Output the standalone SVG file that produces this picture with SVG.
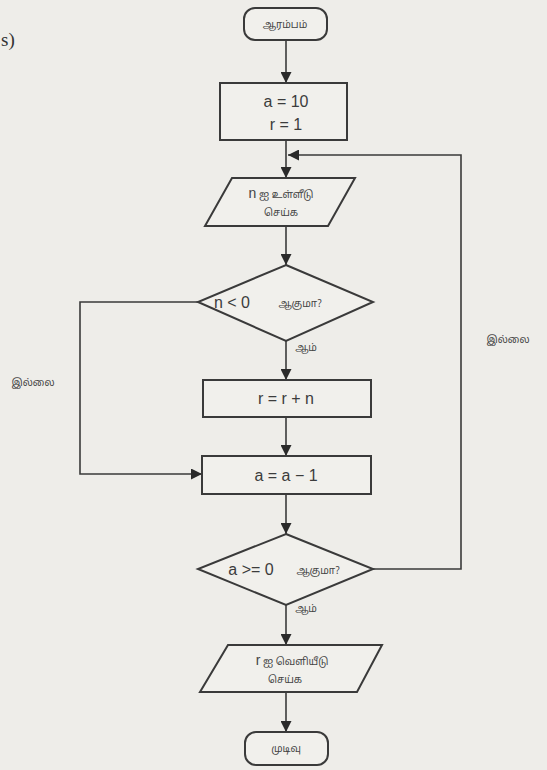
<svg xmlns="http://www.w3.org/2000/svg" width="547" height="770" viewBox="0 0 547 770">
<defs>
<marker id="ah" viewBox="0 0 10 10" refX="10" refY="5" markerWidth="11" markerHeight="11" markerUnits="userSpaceOnUse" orient="auto">
<path d="M0,0 L10,5 L0,10 Z" fill="#2a2a2a"/>
</marker>
<style>
.shape{fill:#f1f0ec;stroke:#3a3a3a;stroke-width:2}
.conn{fill:none;stroke:#3a3a3a;stroke-width:1.6}
.t{font-family:"Liberation Sans",Arial,sans-serif;font-size:16px;fill:#3c3c3c;text-anchor:middle}
.ta{font-family:"Noto Sans Tamil","Noto Sans","Lohit Tamil",sans-serif;font-size:10px;fill:#444;text-anchor:middle}
</style>
</defs>
<rect width="547" height="770" fill="#eeede9"/>
<text x="1" y="46" font-family="Liberation Serif,serif" font-size="19" fill="#333">s)</text>
<g id="connectors">
<line class="conn" x1="286" y1="40" x2="286" y2="83" marker-end="url(#ah)"/>
<line class="conn" x1="286" y1="140" x2="286" y2="178" marker-end="url(#ah)"/>
<line class="conn" x1="286" y1="226" x2="286" y2="265" marker-end="url(#ah)"/>
<line class="conn" x1="286" y1="341" x2="286" y2="380" marker-end="url(#ah)"/>
<line class="conn" x1="286" y1="417" x2="286" y2="456" marker-end="url(#ah)"/>
<line class="conn" x1="286" y1="494" x2="286" y2="534" marker-end="url(#ah)"/>
<line class="conn" x1="286" y1="605" x2="286" y2="645" marker-end="url(#ah)"/>
<line class="conn" x1="286" y1="692" x2="286" y2="732" marker-end="url(#ah)"/>
<polyline class="conn" points="198,302 80,302 80,474 202,474" marker-end="url(#ah)"/>
<polyline class="conn" points="373,569 461,569 461,155 288,155" marker-end="url(#ah)"/>
<text class="ta" x="306" y="351">ஆம்</text>
<text class="ta" x="306" y="612">ஆம்</text>
<text class="ta" x="33" y="386">இல்லை</text>
<text class="ta" x="508" y="343">இல்லை</text>
</g>
<g id="start">
<rect class="shape" x="244" y="8" width="83" height="32" rx="11"/>
<text class="ta" x="285" y="28">ஆரம்பம்</text>
</g>
<g id="init">
<rect class="shape" x="220" y="83" width="127" height="57"/>
<text class="t" x="286" y="107">a = 10</text>
<text class="t" x="286" y="130">r = 1</text>
</g>
<g id="input">
<polygon class="shape" points="232,178 355,178 328,226 205,226"/>
<text class="ta" x="281" y="198"><tspan font-family="Liberation Sans,sans-serif" font-size="14">n</tspan> ஐ உள்ளீடு</text>
<text class="ta" x="281" y="216">செய்க</text>
</g>
<g id="check-n">
<polygon class="shape" points="286,265 373,302 286,341 198,302"/>
<text class="t" x="232" y="308">n &lt; 0</text>
<text class="ta" x="300" y="307">ஆகுமா?</text>
</g>
<g id="add">
<rect class="shape" x="203" y="380" width="168" height="37"/>
<text class="t" x="286" y="404">r = r + n</text>
</g>
<g id="dec">
<rect class="shape" x="202" y="456" width="169" height="38"/>
<text class="t" x="286" y="481">a = a − 1</text>
</g>
<g id="check-a">
<polygon class="shape" points="286,534 373,569 286,605 198,569"/>
<text class="t" x="251" y="575">a &gt;= 0</text>
<text class="ta" x="318" y="574">ஆகுமா?</text>
</g>
<g id="output">
<polygon class="shape" points="228,645 382,645 357,692 200,692"/>
<text class="ta" x="292" y="665"><tspan font-family="Liberation Sans,sans-serif" font-size="14">r</tspan> ஐ வெளியீடு</text>
<text class="ta" x="285" y="683">செய்க</text>
</g>
<g id="end">
<rect class="shape" x="245" y="732" width="83" height="33" rx="11"/>
<text class="ta" x="286" y="752">முடிவு</text>
</g>
</svg>
